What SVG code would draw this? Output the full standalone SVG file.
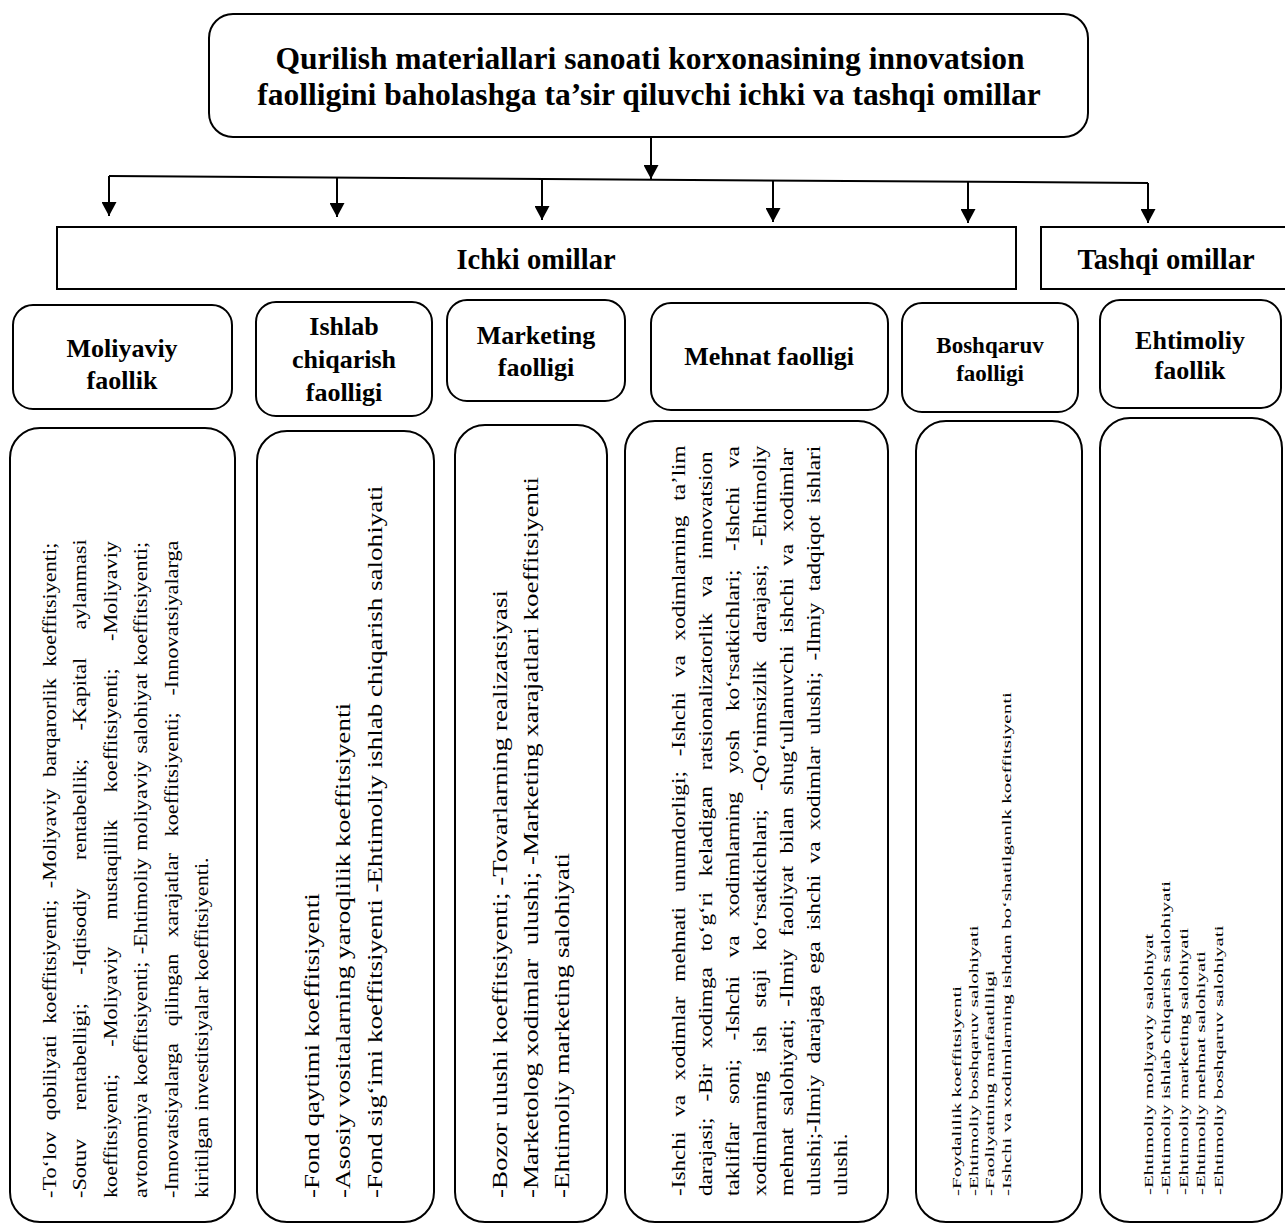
<svg xmlns="http://www.w3.org/2000/svg" width="1285" height="1228" viewBox="0 0 1285 1228">
<style>
.box{fill:#fff;stroke:#000;stroke-width:2}
.conn{stroke:#000;stroke-width:2;fill:none}
.t{font-family:"Liberation Serif","Times New Roman",serif;fill:#000}
.b{font-weight:bold;text-anchor:middle}
.title{font-size:31.5px}
.cat{font-size:26px}
.sec{font-size:28.5px}
</style>
<defs>
<marker id="ah" markerUnits="userSpaceOnUse" viewBox="0 0 14 15" markerWidth="14" markerHeight="15" refX="14" refY="7.5" orient="auto">
<path d="M0,0 L14,7.5 L0,15 z" fill="#000"/>
</marker>
</defs>
<rect width="1285" height="1228" fill="#fff"/>

<g id="connectors">
<line class="conn" x1="651" y1="137" x2="651" y2="179" marker-end="url(#ah)"/>
<line class="conn" x1="109" y1="176" x2="1148" y2="183"/>
<line class="conn" x1="109" y1="176" x2="109" y2="216" marker-end="url(#ah)"/>
<line class="conn" x1="337" y1="177.5" x2="337" y2="217" marker-end="url(#ah)"/>
<line class="conn" x1="542" y1="178.9" x2="542" y2="220" marker-end="url(#ah)"/>
<line class="conn" x1="773" y1="180.5" x2="773" y2="222" marker-end="url(#ah)"/>
<line class="conn" x1="968" y1="181.8" x2="968" y2="223" marker-end="url(#ah)"/>
<line class="conn" x1="1148" y1="183" x2="1148" y2="223" marker-end="url(#ah)"/>
</g>

<g id="title">
<rect class="box" x="209" y="14" width="879" height="123" rx="24"/>
<text class="t b title" x="650" y="69">Qurilish materiallari sanoati korxonasining innovatsion</text>
<text class="t b title" x="649" y="105">faolligini baholashga ta’sir qiluvchi ichki va tashqi omillar</text>
</g>

<g id="ichki">
<rect class="box" x="57" y="227" width="959" height="62"/>
<text class="t b sec" x="536" y="269">Ichki omillar</text>
</g>
<g id="tashqi">
<rect class="box" x="1041" y="227" width="260" height="62"/>
<text class="t b sec" x="1166" y="269">Tashqi omillar</text>
</g>

<g id="moliyaviy">
<rect class="box" x="13" y="305" width="219" height="104" rx="20"/>
<text class="t b cat" x="122" y="357">Moliyaviy</text>
<text class="t b cat" x="122" y="389">faollik</text>
</g>
<g id="ishlab">
<rect class="box" x="256" y="302" width="176" height="114" rx="20"/>
<text class="t b cat" x="344" y="335">Ishlab</text>
<text class="t b cat" x="344" y="368">chiqarish</text>
<text class="t b cat" x="344" y="401">faolligi</text>
</g>
<g id="marketing">
<rect class="box" x="447" y="300" width="178" height="101" rx="20"/>
<text class="t b cat" x="536" y="344">Marketing</text>
<text class="t b cat" x="536" y="376">faolligi</text>
</g>
<g id="mehnat">
<rect class="box" x="651" y="303" width="237" height="107" rx="20"/>
<text class="t b cat" x="769" y="365">Mehnat faolligi</text>
</g>
<g id="boshqaruv">
<rect class="box" x="902" y="303" width="176" height="109" rx="20"/>
<text class="t b" style="font-size:23px" x="990" y="353">Boshqaruv</text>
<text class="t b" style="font-size:23px" x="990" y="381">faolligi</text>
</g>
<g id="ehtimoliy">
<rect class="box" x="1100" y="300" width="181" height="108" rx="20"/>
<text class="t b cat" x="1190" y="349">Ehtimoliy</text>
<text class="t b cat" x="1190" y="379">faollik</text>
</g>

<g id="moliyaviy-details">
<rect class="box" x="10" y="428" width="225" height="794" rx="30"/>
<g class="t" style="font-size:19px" transform="translate(0,1198) rotate(-90) scale(1.17,1)">
<text x="0" y="56" word-spacing="5">-To‘lov qobiliyati koeffitsiyenti; -Moliyaviy barqarorlik koeffitsiyenti;</text>
<text x="0" y="86.5" word-spacing="19.5">-Sotuv rentabelligi; -Iqtisodiy rentabellik; -Kapital aylanmasi</text>
<text x="0" y="117" word-spacing="18.5">koeffitsiyenti; -Moliyaviy mustaqillik koeffitsiyenti; -Moliyaviy</text>
<text x="0" y="147.5" word-spacing="1.5">avtonomiya koeffitsiyenti; -Ehtimoliy moliyaviy salohiyat koeffitsiyenti;</text>
<text x="0" y="178" word-spacing="9.5">-Innovatsiyalarga qilingan xarajatlar koeffitsiyenti; -Innovatsiyalarga</text>
<text x="0" y="208.5">kiritilgan investitsiyalar koeffitsiyenti.</text>
</g>
</g>

<g id="ishlab-details">
<rect class="box" x="257" y="431" width="177" height="791" rx="30"/>
<g class="t" style="font-size:21px" transform="translate(0,1198) rotate(-90) scale(1.29,1)">
<text x="0" y="319">-Fond qaytimi koeffitsiyenti</text>
<text x="0" y="350">-Asosiy vositalarning yaroqlilik koeffitsiyenti</text>
<text x="0" y="382">-Fond sig‘imi koeffitsiyenti -Ehtimoliy ishlab chiqarish salohiyati</text>
</g>
</g>

<g id="marketing-details">
<rect class="box" x="455" y="425" width="152" height="797" rx="30"/>
<g class="t" style="font-size:21px" transform="translate(0,1198) rotate(-90) scale(1.286,1)">
<text x="0" y="507">-Bozor ulushi koeffitsiyenti; -Tovarlarning realizatsiyasi</text>
<text x="0" y="538" style="white-space:pre">-Marketolog xodimlar  ulushi; -Marketing xarajatlari koeffitsiyenti</text>
<text x="0" y="569">-Ehtimoliy marketing salohiyati</text>
</g>
</g>

<g id="mehnat-details">
<rect class="box" x="625" y="421" width="263" height="801" rx="30"/>
<g class="t" style="font-size:19px" transform="translate(0,1196) rotate(-90) scale(1.22,1)">
<text x="0" y="685" word-spacing="7.4">-Ishchi va xodimlar mehnati unumdorligi; -Ishchi va xodimlarning ta’lim</text>
<text x="0" y="712" word-spacing="8.3">darajasi; -Bir xodimga to‘g‘ri keladigan ratsionalizatorlik va innovatsion</text>
<text x="0" y="739" word-spacing="10.5">takliflar soni; -Ishchi va xodimlarning yosh ko‘rsatkichlari; -Ishchi va</text>
<text x="0" y="766" word-spacing="10.2">xodimlarning ish staji ko‘rsatkichlari; -Qo‘nimsizlik darajasi; -Ehtimoliy</text>
<text x="0" y="793" word-spacing="5.3">mehnat salohiyati; -Ilmiy faoliyat bilan shug‘ullanuvchi ishchi va xodimlar</text>
<text x="0" y="820" word-spacing="4.6">ulushi;-Ilmiy darajaga ega ishchi va xodimlar ulushi; -Ilmiy tadqiqot ishlari</text>
<text x="0" y="847">ulushi.</text>
</g>
</g>

<g id="boshqaruv-details">
<rect class="box" x="916" y="421" width="166" height="801" rx="30"/>
<g class="t" style="font-size:13.5px" transform="translate(0,1196) rotate(-90) scale(1.556,1)">
<text x="0" y="961">-Foydalilik koeffitsiyenti</text>
<text x="0" y="978">-Ehtimoliy boshqaruv salohiyati</text>
<text x="0" y="994.5">-Faoliyatning manfaatliligi</text>
<text x="0" y="1011">-Ishchi va xodimlarning ishdan bo‘shatilganlk koeffitsiyenti</text>
</g>
</g>

<g id="ehtimoliy-details">
<rect class="box" x="1100" y="418" width="182" height="804" rx="30"/>
<g class="t" style="font-size:13.5px" transform="translate(0,1195) rotate(-90) scale(1.55,1)">
<text x="0" y="1153">-Ehtimoliy moliyaviy salohiyat</text>
<text x="0" y="1170.5">-Ehtimoliy ishlab chiqarish salohiyati</text>
<text x="0" y="1188">-Ehtimoliy marketing salohiyati</text>
<text x="0" y="1205.5">-Ehtimoliy mehnat salohiyati</text>
<text x="0" y="1223">-Ehtimoliy boshqaruv salohiyati</text>
</g>
</g>
</svg>
